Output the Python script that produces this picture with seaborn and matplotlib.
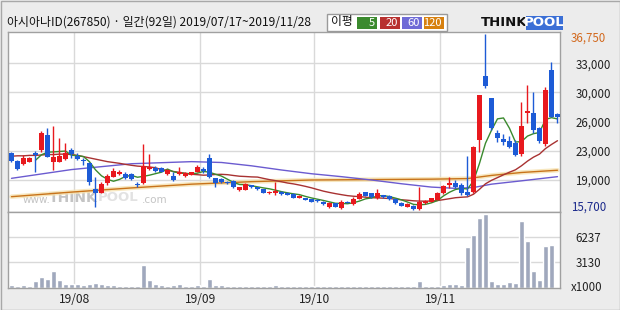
import numpy as np
import pandas as pd
import matplotlib
matplotlib.use("Agg")
import matplotlib.pyplot as plt
from matplotlib.patches import Rectangle
from matplotlib import transforms
import seaborn as sns

# ---------------- data ----------------
title = "아시아나ID(267850) · 일간(92일) 2019/07/17~2019/11/28"
month_labels = ["19/08", "19/09", "19/10", "19/11"]
month_start_idx = [11, 32, 51, 72]

open_ = [22500, 21570, 21200, 21450, 22450, 22900, 24650, 21450, 21450, 21750,
         22850, 22150, 21650, 21250, 18150, 17700, 18850, 19650, 19950, 19950,
         19950, 18800, 18900, 20550, 20650, 20650, 19950, 19750, 19950, 19750,
         19850, 20250, 20600, 21900, 19450, 19350, 19050, 19150, 18050, 18050,
         18600, 18400, 18150, 17650, 17700, 17850, 17750, 17600, 17130, 17050,
         16930, 16850, 16650, 15970, 16450, 15850, 16600, 16370, 17010, 17770,
         17650, 17050, 17450, 17330, 16970, 16530, 16050, 16150, 15750, 16450,
         16650, 16850, 17650, 18650, 18950, 18700, 17850, 17850, 24050, 31700,
         29050, 24900, 24150, 23950, 23650, 22370, 27250, 27250, 25450, 23550,
         32450, 27150]
high = [22550, 21650, 22300, 22000, 22750, 25150, 25500, 25700, 24250, 23700,
        23050, 22450, 21900, 21450, 19650, 19000, 20000, 20650, 20400, 20150,
        20050, 19050, 23600, 22350, 20950, 20850, 20550, 20150, 20750, 20150,
        20250, 21050, 20850, 22350, 19500, 19450, 19150, 19200, 18450, 18850,
        18700, 18450, 18200, 17950, 19050, 17950, 17800, 17650, 17450, 17150,
        17000, 16950, 16700, 16600, 16500, 16850, 16700, 17250, 17850, 17850,
        17700, 18130, 17500, 17400, 17050, 16600, 16450, 16300, 18450, 16850,
        17150, 17800, 18650, 19650, 19250, 18900, 22130, 23300, 29500, 36750,
        29100, 25250, 24800, 24550, 24050, 28650, 30650, 29850, 25550, 30350,
        33450, 27300]
low = [21450, 20450, 21100, 21350, 20250, 22650, 21950, 20450, 21350, 21650,
       21850, 21650, 21050, 18650, 16050, 17650, 18650, 19550, 19850, 19350,
       19250, 18400, 18800, 20450, 20250, 20150, 19850, 19150, 19900, 19650,
       19800, 20200, 20050, 19450, 18450, 18950, 18750, 18350, 17950, 18000,
       18350, 18050, 17700, 17600, 17450, 17500, 17400, 17080, 17100, 16850,
       16600, 16650, 16300, 15920, 16000, 15800, 16450, 16300, 16950, 17300,
       17100, 17000, 17100, 16880, 16400, 16080, 16000, 15700, 15700, 16400,
       16600, 16800, 17600, 18250, 18250, 17500, 17300, 17700, 22550, 30300,
       25300, 23850, 23450, 23100, 22100, 22100, 26050, 24850, 23650, 23300,
       26750, 26050]
close = [21570, 20530, 21850, 21900, 22250, 24850, 22050, 22050, 22150, 22500,
         22350, 21800, 21500, 19050, 17650, 18750, 19700, 20350, 20150, 19450,
         19350, 18600, 20900, 20850, 20350, 20250, 20450, 19250, 20150, 20050,
         20150, 20750, 20300, 19650, 18850, 19050, 18850, 18400, 18400, 18750,
         18450, 18150, 17750, 17850, 17950, 17570, 17450, 17130, 17370, 16890,
         16650, 16690, 16370, 16530, 16050, 16570, 16500, 16970, 17530, 17370,
         17170, 17650, 17170, 16930, 16450, 16130, 16370, 15750, 16650, 16750,
         17050, 17730, 18530, 18850, 18400, 17700, 17400, 23250, 29450, 30500,
         25450, 24250, 23800, 23250, 22250, 25720, 27550, 25250, 23950, 30050,
         26850, 26750]
volume = [311, 190, 311, 190, 850, 1307, 1058, 2054, 934, 436,
          436, 436, 311, 436, 560, 436, 311, 311, 190, 190,
          190, 190, 2801, 934, 436, 311, 190, 311, 436, 190,
          190, 311, 190, 1058, 311, 311, 190, 190, 190, 190,
          190, 190, 190, 190, 311, 170, 150, 150, 150, 150,
          150, 150, 150, 150, 150, 150, 150, 150, 150, 150,
          150, 150, 150, 150, 150, 150, 150, 150, 770, 150,
          150, 150, 311, 436, 436, 311, 5042, 6536, 8653, 9151,
          809, 436, 436, 685, 560, 8279, 5789, 2054, 934, 5167,
          5291, 0]
# MA20 values read for the first 19 days (before 20 closes are available)
ma20_head = [22100, 22150, 22150, 22200, 22200, 22250, 22300, 22300, 22350, 22350,
             22300, 22200, 22050, 21900, 21750, 21600, 21450, 21350, 21250]
# MA60 / MA120
ma60_idx = [0, 10, 20, 30, 35, 40, 45, 50, 55, 60, 65, 70, 74, 77, 80, 85, 91]
ma60_val = [19450, 20500, 21200, 21450, 21350, 20950, 20450, 20000, 19650, 19250,
            18800, 18400, 18250, 18350, 18750, 19150, 19650]
ma120_idx = [0, 10, 20, 30, 40, 50, 60, 70, 76, 80, 85, 91]
ma120_val = [17250, 17800, 18300, 18750, 19050, 19250, 19300, 19350, 19420, 19800,
             20150, 20420]

price_grid = [19250, 22750, 26250, 29750, 33250]
price_grid_labels = ["19,000", "23,000", "26,000", "30,000", "33,000"]
vol_grid = [3130, 6237]
vol_grid_labels = ["3130", "6237"]

# ---------------- styling ----------------
sns.set_style("white")
FONT = ["Noto Sans CJK KR", "DejaVu Sans"]
plt.rcParams["font.family"] = FONT

RED = "#e8191e"
BLUE = "#1d5bd6"
GRID = "#d9d9d9"
SPINE = "#a0a0a0"
BG = "#ececec"
C5, C20, C60, C120 = "#3b8a2e", "#a83232", "#6b5bd0", "#c8731a"

W, H = 620, 310
fig = plt.figure(figsize=(W / 100, H / 100), dpi=100, facecolor=BG)

def px_rect(x0, y0, x1, y1):
    return [x0 / W, 1 - y1 / H, (x1 - x0) / W, (y1 - y0) / H]

ax = fig.add_axes(px_rect(8, 32, 560, 212.3))
axv = fig.add_axes(px_rect(8, 212.3, 560, 287.7), sharex=ax)

df = pd.DataFrame({"idx": np.arange(len(close)), "open": open_, "high": high,
                   "low": low, "close": close, "volume": volume})
df["ma5"] = df["close"].rolling(5).mean()
ma20 = df["close"].rolling(20).mean()
ma20.iloc[:len(ma20_head)] = ma20_head
df["ma20"] = ma20

XL = (-0.583, 91.42)

# ----- price panel -----
ax.set_facecolor("white")
for v in price_grid:
    ax.axhline(v, color=GRID, lw=1, zorder=0)
for m in month_start_idx:
    ax.axvline(m - 0.5, color=GRID, lw=1, zorder=0)
    axv.axvline(m - 0.5, color=GRID, lw=1, zorder=0)

# watermark
def wm(x_px, text, size, color, bold=False, dy=0.0):
    ax.text((x_px - 8) / 552, 0.08 + dy, text, transform=ax.transAxes, fontsize=size,
            color=color, ha="left", va="center",
            fontweight="bold" if bold else "normal",
            family=["DejaVu Sans"], zorder=1)

wm(23, "www.", 7.5, "#c4c4c4", dy=-0.01)
wm(49, "THINK", 10, "#c4c4c4", bold=True)
wm(98, "POOL", 9.5, "#e2e2e2", bold=True)
wm(142, ".com", 7.5, "#c4c4c4", dy=-0.01)

sns.lineplot(x=ma120_idx, y=ma120_val, ax=ax, color="#f6e2b0", lw=3.2, zorder=1, alpha=0.8)
sns.lineplot(x=ma120_idx, y=ma120_val, ax=ax, color=C120, lw=1.0, zorder=2)
sns.lineplot(x=ma60_idx, y=ma60_val, ax=ax, color=C60, lw=1.0, zorder=2)
d20 = df.dropna(subset=["ma20"])
sns.lineplot(x=d20["idx"], y=d20["ma20"], ax=ax, color=C20, lw=1.0, zorder=2)
d5 = df.dropna(subset=["ma5"])
sns.lineplot(x=d5["idx"], y=d5["ma5"], ax=ax, color=C5, lw=1.0, zorder=2)

up = df["close"] >= df["open"]
cols = np.where(up, RED, BLUE)
ax.vlines(df["idx"], df["low"], df["high"], colors=cols, lw=1.0, zorder=3)
body_lo = np.minimum(df["open"], df["close"])
body_h = np.maximum((df["close"] - df["open"]).abs(), 110)
ax.bar(df["idx"], body_h, bottom=body_lo, width=0.76, color=cols, lw=0, zorder=4)

ax.set_xlim(*XL)
ax.set_ylim(15377, 36995)
ax.set_xlabel("")
ax.set_ylabel("")
ax.yaxis.tick_right()
ax.set_yticks(price_grid)
ax.set_yticklabels(price_grid_labels)
ax.tick_params(axis="y", length=0, pad=11, labelsize=8.3, colors="#222222")
ax.tick_params(axis="x", length=0, labelbottom=False)
for s in ax.spines.values():
    s.set_color(SPINE)
    s.set_linewidth(1)

blend = transforms.blended_transform_factory(ax.transAxes, ax.transData)
tr_hi = transforms.offset_copy(blend, fig=fig, y=-3.0, units="points")
tr_lo = transforms.offset_copy(blend, fig=fig, y=2.0, units="points")
ax.text(1.0199, max(high), f"{max(high):,}", transform=tr_hi, va="center",
        ha="left", fontsize=8.3, color="#d2691e", family=FONT)
ax.text(1.0199, min(low), f"{min(low):,}", transform=tr_lo, va="center",
        ha="left", fontsize=8.3, color="#1c2a8c", family=FONT)

# ----- volume panel -----
axv.set_facecolor("white")
for v in vol_grid:
    axv.axhline(v, color=GRID, lw=1, zorder=0)
sns.barplot(x=df["idx"], y=df["volume"], native_scale=True, color="#a0a8bd",
            saturation=1, width=0.78, errorbar=None, ax=axv, zorder=2)
axv.set_xlim(*XL)
axv.set_ylim(0, 9350)
axv.set_xlabel("")
axv.set_ylabel("")
axv.yaxis.tick_right()
axv.set_yticks(vol_grid)
axv.set_yticklabels(vol_grid_labels)
axv.tick_params(axis="y", length=0, pad=11, labelsize=8.3, colors="#222222")
axv.set_xticks([m - 0.5 for m in month_start_idx])
axv.set_xticklabels(month_labels)
axv.tick_params(axis="x", length=0, pad=4, labelsize=8.6, colors="#222222")
for s in axv.spines.values():
    s.set_color(SPINE)
    s.set_linewidth(1)
blendv = transforms.blended_transform_factory(axv.transAxes, axv.transData)
axv.text(1.0199, 0, "x1000", transform=blendv, va="center", ha="left",
         fontsize=8.3, color="#222222", family=FONT)

# ----- header overlay (pixel coordinates) -----
ov = fig.add_axes([0, 0, 1, 1], zorder=10)
ov.set_xlim(0, W)
ov.set_ylim(H, 0)
ov.axis("off")
ov.patch.set_alpha(0)

ov.add_patch(Rectangle((0.5, 0.5), W - 1, H - 1, fill=False, ec="#a8a8a8", lw=1))
ov.text(7, 22.5, title, fontsize=8.6, ha="left", va="center", color="#111111", family=FONT)

ov.add_patch(Rectangle((327, 13.5), 120, 17.5, fc="white", ec="#9a9a9a", lw=1))
ov.text(342, 22, "이평", fontsize=8.5, ha="center", va="center", color="#111111", family=FONT)
legend_items = [("5", C5, 357, 377), ("20", "#b8312f", 380, 400),
                ("60", "#6f6bd6", 402, 422), ("120", "#d7800f", 424, 444)]
for lab, col, x0, x1 in legend_items:
    ov.add_patch(Rectangle((x0, 17.3), x1 - x0, 11.7, fc=col, ec="none"))
    ov.text(x1 - 2, 23.3, lab, fontsize=8, ha="right", va="center", color="white", family=FONT)

# logo
ov.text(481, 22.5, "THINK", fontsize=9.5, ha="left", va="center", color="#111111",
        fontweight="bold", family=["DejaVu Sans"])
ov.add_patch(Rectangle((526, 15.5), 37, 14, fc="#3b6fd6", ec="none"))
ov.text(544.5, 22.8, "POOL", fontsize=9.5, ha="center", va="center", color="white",
        fontweight="bold", family=["DejaVu Sans"])

fig.savefig("out.png", dpi=100, facecolor=BG)
